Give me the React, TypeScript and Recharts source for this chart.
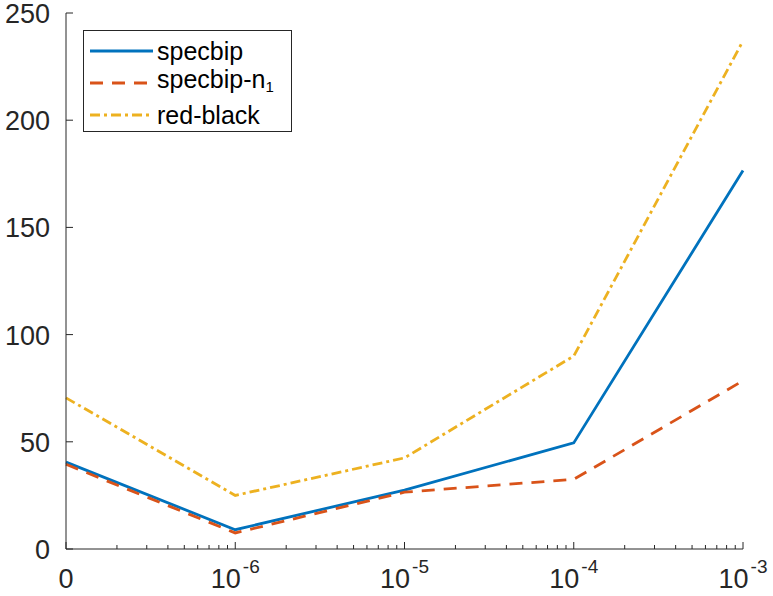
import React from "react";
import { LineChart, Line, XAxis, YAxis, Legend } from "recharts";

const xTickLabels = ["0", "10^-6", "10^-5", "10^-4", "10^-3"];
const specbip = [40.5, 9, 27.5, 49.5, 176.5];
const specbipN1 = [39.5, 7.5, 26.5, 32.5, 78.5];
const redBlack = [70.5, 25, 42.5, 90, 237];
const yTicks = [0, 50, 100, 150, 200, 250];

const FONT = "'Liberation Sans', Arial, Helvetica, sans-serif";
const AXIS = "#262626";

const data = xTickLabels.map((label, i) => ({
  x: i,
  label,
  specbip: specbip[i],
  specbipN1: specbipN1[i],
  redBlack: redBlack[i],
}));

// major ticks at each decade, minor ticks at log positions in between
const majorTicks = xTickLabels.map((_, i) => i);
const xTicks: number[] = [];
majorTicks.forEach((m) => {
  xTicks.push(m);
  if (m < majorTicks.length - 1) {
    for (let k = 2; k <= 9; k++) xTicks.push(m + Math.log10(k));
  }
});

const isMajor = (v: number) => Math.abs(v - Math.round(v)) < 1e-9;

const BottomTick = (props: any) => {
  const { x, y, payload } = props;
  const v = payload.value;
  const major = isMajor(v);
  const len = major ? 7 : 4;
  const label = major ? xTickLabels[Math.round(v)] : null;
  let text = null;
  if (label) {
    const [base, exp] = label.split("^");
    text = (
      <text x={x} y={y + 39} textAnchor="middle" fontFamily={FONT} fontSize={27} fill={AXIS}>
        <tspan>{base}</tspan>
        {exp && (
          <tspan dy={-15} dx={2} fontSize={19}>
            {exp}
          </tspan>
        )}
      </text>
    );
  }
  return (
    <g>
      <line x1={x} x2={x} y1={y} y2={y - len} stroke={AXIS} strokeWidth={1} />
      {text}
    </g>
  );
};

const TopTick = (props: any) => {
  const { x, y, payload } = props;
  const len = isMajor(payload.value) ? 7 : 4;
  return <line x1={x} x2={x} y1={y} y2={y + len} stroke={AXIS} strokeWidth={1} />;
};

const LeftTick = (props: any) => {
  const { x, y, payload } = props;
  return (
    <g>
      <line x1={x} x2={x + 7} y1={y} y2={y} stroke={AXIS} strokeWidth={1} />
      <text x={x - 16} y={y} dy={10} textAnchor="end" fontFamily={FONT} fontSize={27} fill={AXIS}>
        {payload.value}
      </text>
    </g>
  );
};

const RightTick = (props: any) => {
  const { x, y } = props;
  return <line x1={x} x2={x - 7} y1={y} y2={y} stroke={AXIS} strokeWidth={1} />;
};

const legendItems = [
  { name: "specbip", sub: "", color: "#0072BD", dash: undefined },
  { name: "specbip-n", sub: "1", color: "#D95319", dash: "13 9" },
  { name: "red-black", sub: "", color: "#EDB120", dash: "10 4 3 4" },
];

const LegendBox = () => (
  <div
    style={{
      border: `1px solid ${AXIS}`,
      background: "#fff",
      width: 209,
      height: 102,
      boxSizing: "border-box",
      padding: "4px 0 0 5px",
      fontFamily: FONT,
      fontSize: 25,
      color: "#000",
    }}
  >
    {legendItems.map((item) => (
      <div key={item.name} style={{ display: "flex", alignItems: "center", height: 32 }}>
        <svg width={66} height={10}>
          <line x1={1} x2={64} y1={5} y2={5} stroke={item.color} strokeWidth={2.8} strokeDasharray={item.dash} />
        </svg>
        <span style={{ marginLeft: 2, lineHeight: "28px" }}>
          {item.name}
          {item.sub && <sub style={{ fontSize: 15, verticalAlign: "-4px" }}>{item.sub}</sub>}
        </span>
      </div>
    ))}
  </div>
);

const App = () => {
  return (
    <div style={{ position: "absolute", left: 0, top: 0, width: 773, height: 596, background: "#fff" }}>
      <LineChart width={773} height={596} data={data} margin={{ top: 13, right: 30, bottom: 0, left: 0 }}>
        <XAxis
          xAxisId="b"
          dataKey="x"
          type="number"
          domain={[0, 4]}
          ticks={xTicks}
          interval={0}
          tickSize={0}
          tickMargin={0}
          tickLine={false}
          tick={<BottomTick />}
          height={47}
          axisLine={{ stroke: AXIS, strokeWidth: 1 }}
        />
        <XAxis
          xAxisId="t"
          dataKey="x"
          type="number"
          orientation="top"
          domain={[0, 4]}
          ticks={xTicks}
          interval={0}
          tickSize={0}
          tickMargin={0}
          tickLine={false}
          tick={<TopTick />}
          height={0}
          axisLine={{ stroke: AXIS, strokeWidth: 1 }}
        />
        <YAxis
          yAxisId="l"
          domain={[0, 250]}
          ticks={yTicks}
          interval={0}
          tickSize={0}
          tickMargin={0}
          tickLine={false}
          tick={<LeftTick />}
          width={66}
          axisLine={{ stroke: AXIS, strokeWidth: 1 }}
        />
        <YAxis
          yAxisId="r"
          orientation="right"
          domain={[0, 250]}
          ticks={yTicks}
          interval={0}
          tickSize={0}
          tickMargin={0}
          tickLine={false}
          tick={<RightTick />}
          width={0}
          axisLine={{ stroke: AXIS, strokeWidth: 1 }}
        />
        <Line
          xAxisId="b"
          yAxisId="l"
          type="linear"
          dataKey="specbip"
          stroke="#0072BD"
          strokeWidth={2.8}
          dot={false}
          isAnimationActive={false}
        />
        <Line
          xAxisId="b"
          yAxisId="l"
          type="linear"
          dataKey="specbipN1"
          stroke="#D95319"
          strokeWidth={2.8}
          strokeDasharray="13 9"
          dot={false}
          isAnimationActive={false}
        />
        <Line
          xAxisId="b"
          yAxisId="l"
          type="linear"
          dataKey="redBlack"
          stroke="#EDB120"
          strokeWidth={2.8}
          strokeDasharray="10 4 3 4"
          dot={false}
          isAnimationActive={false}
        />
        <Legend
          layout="vertical"
          align="center"
          verticalAlign="middle"
          content={<LegendBox />}
          wrapperStyle={{ position: "absolute", left: 83, top: 30, width: 209, height: 102 }}
        />
      </LineChart>
    </div>
  );
};

export default App;
